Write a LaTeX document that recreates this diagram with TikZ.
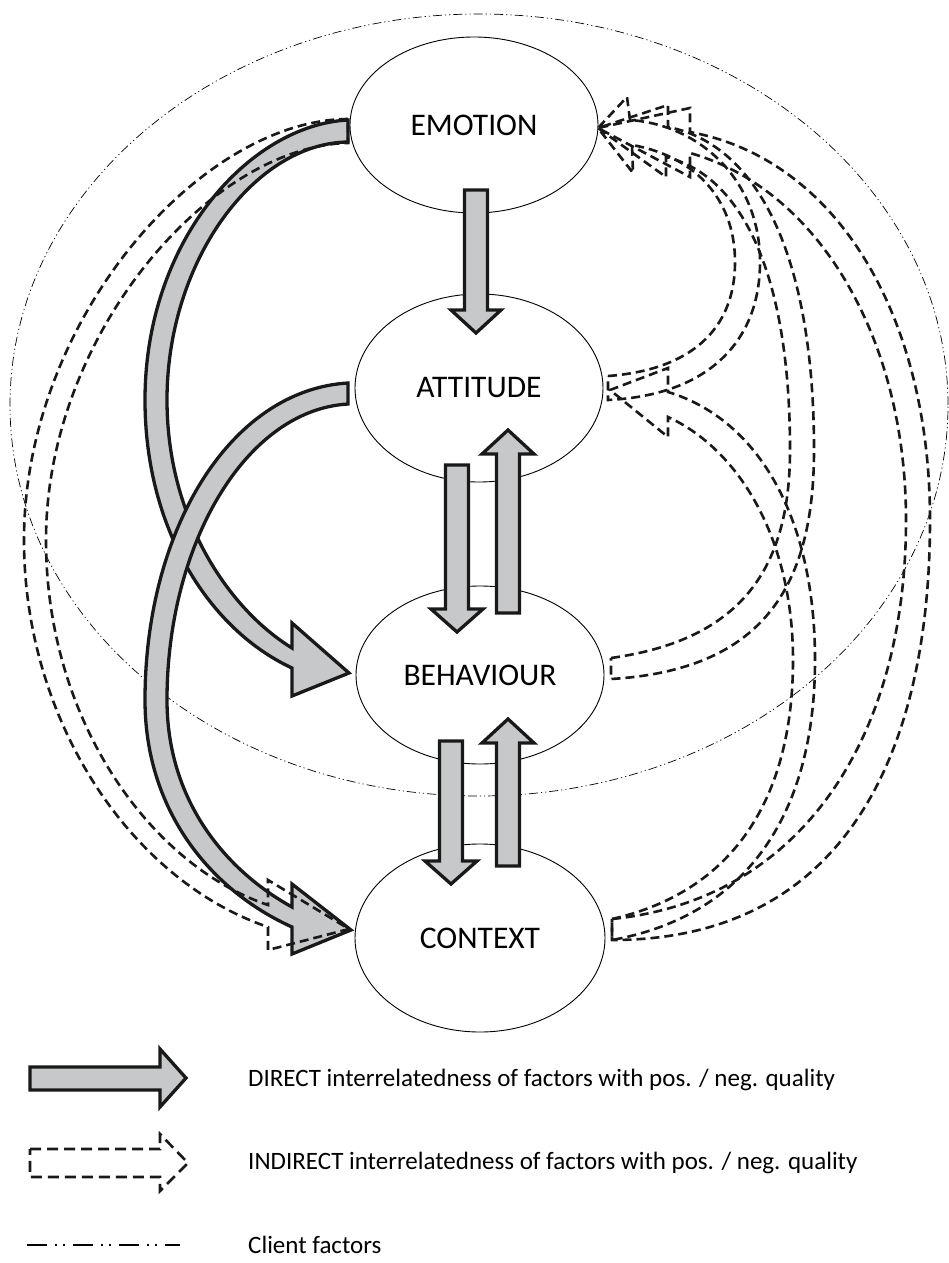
\documentclass[tikz,border=0pt]{standalone}
\usepackage{fontspec}
\setmainfont{Carlito}
\usetikzlibrary{shapes.geometric}
\definecolor{arrgray}{RGB}{199,200,202}
\begin{document}
\begin{tikzpicture}[x=1pt,y=-1pt,
  nodeell/.style={ellipse, draw=black, line width=0.9pt, fill=white, inner sep=0pt, font=\fontsize{31.5}{33}\selectfont},
  fat/.style={draw=black!90, fill=arrgray, line width=3.3pt, line join=miter, miter limit=6},
  hollow/.style={draw=black!90, line width=2.6pt, dash pattern=on 9pt off 5pt, line join=miter},
  client/.style={draw=black, line width=0.7pt, dash pattern=on 9pt off 3pt on 1.2pt off 3pt on 1.2pt off 3pt},
  clientleg/.style={draw=black, line width=1.6pt, dash pattern=on 20pt off 8pt on 2pt off 6pt on 2pt off 8pt},
  legtext/.style={anchor=west, inner sep=0pt, font=\fontsize{25}{28}\selectfont}]
\useasboundingbox (0,0) rectangle (949,1263);
% client factors
\node[ellipse, client, minimum width=938pt, minimum height=782pt, inner sep=0pt] (clientell) at (479,405) {};
% factor nodes
\node[nodeell, minimum width=248pt, minimum height=176pt] (emo) at (474,125) {EMOTION};
\node[nodeell, minimum width=248pt, minimum height=188pt] (att) at (479,388) {ATTITUDE};
\node[nodeell, minimum width=248pt, minimum height=178pt] (beh) at (480,675) {BEHAVIOUR};
\node[nodeell, minimum width=250pt, minimum height=188pt] (con) at (480,938) {CONTEXT};
% direct vertical arrows
\draw[fat] (464.5,190) -- (487.5,190) -- (487.5,310) -- (501,310) -- (476,333) -- (451,310) -- (464.5,310) -- cycle;
\draw[fat] (445.5,465) -- (468.5,465) -- (468.5,609) -- (483,609) -- (457,632) -- (431,609) -- (445.5,609) -- cycle;
\draw[fat] (496.5,613) -- (519.5,613) -- (519.5,454) -- (534,454) -- (508,430) -- (482,454) -- (496.5,454) -- cycle;
\draw[fat] (439.5,741) -- (462.5,741) -- (462.5,861) -- (477,861) -- (451,884) -- (425,861) -- (439.5,861) -- cycle;
\draw[fat] (496.5,866) -- (519.5,866) -- (519.5,743) -- (534,743) -- (508,719) -- (482,743) -- (496.5,743) -- cycle;
% direct curved arrows
\draw[fat] (348,120) .. controls (250,125) and (145,240) .. (145,400) .. controls (145,530) and (210,630) .. (292,668) -- (292,696) -- (349,673) -- (292,623) -- (292,648) .. controls (230,610) and (167,520) .. (167,400) .. controls (167,260) and (255,143) .. (348,142) -- cycle;
\draw[fat] (348,383) .. controls (230,390) and (145,530) .. (145,700) .. controls (145,810) and (210,890) .. (292,927) -- (292,954) -- (351,930) -- (292,884) -- (292,907) .. controls (225,870) and (167,800) .. (167,700) .. controls (167,545) and (245,410) .. (348,404) -- cycle;
% indirect arrows
\draw[hollow] (348,119) .. controls (200,120) and (24,320) .. (24,540) .. controls (24,720) and (130,880) .. (268,927) -- (268,950) -- (349,929) -- (268,880) -- (268,905) .. controls (150,865) and (46,720) .. (46,540) .. controls (46,335) and (210,146) .. (348,143) -- cycle;
\draw[hollow] (608,376) .. controls (690,370) and (735,330) .. (735,262) .. controls (735,195) and (690,155) .. (632,145) -- (633,173) -- (598,128) -- (627,97) -- (630,120) .. controls (700,125) and (760,180) .. (760,262) .. controls (760,340) and (710,395) .. (608,400) -- cycle;
\draw[hollow] (611,658) .. controls (740,640) and (790,570) .. (790,450) .. controls (790,270) and (740,175) .. (666,157) -- (666,177) -- (598,128) -- (668,105) -- (668,127) .. controls (760,145) and (814,260) .. (814,450) .. controls (814,590) and (760,670) .. (611,679) -- cycle;
\draw[hollow] (612,919) .. controls (800,900) and (906,740) .. (906,520) .. controls (906,340) and (820,190) .. (690,153) -- (690,177) -- (598,128) -- (690,108) -- (690,132) .. controls (840,160) and (930,320) .. (930,520) .. controls (930,760) and (840,940) .. (612,940) -- cycle;
\draw[hollow] (612,919) .. controls (740,890) and (793,790) .. (793,660) .. controls (793,540) and (740,450) .. (668,417) -- (668,437) -- (610,390) -- (668,368) -- (668,392) .. controls (760,420) and (815,520) .. (815,660) .. controls (815,810) and (750,915) .. (612,940) -- cycle;
% legend
\draw[fat] (30,1067) -- (160,1067) -- (160,1049) -- (186,1078) -- (160,1107) -- (160,1090) -- (30,1090) -- cycle;
\node[legtext] (legA) at (248,1080) {DIRECT interrelatedness of factors with pos. / neg. quality};
\draw[hollow, dash pattern=on 11pt off 6pt] (30,1149) -- (160,1149) -- (160,1134) -- (188,1163) -- (160,1191) -- (160,1177) -- (30,1177) -- cycle;
\node[legtext] (legB) at (248,1163) {INDIRECT interrelatedness of factors with pos. / neg. quality};
\coordinate (legc1) at (27,1245);
\coordinate (legc2) at (180,1245);
\draw[clientleg] (legc1) -- (legc2);
\node[legtext] (legC) at (248,1245) {Client factors};
\end{tikzpicture}
\end{document}
